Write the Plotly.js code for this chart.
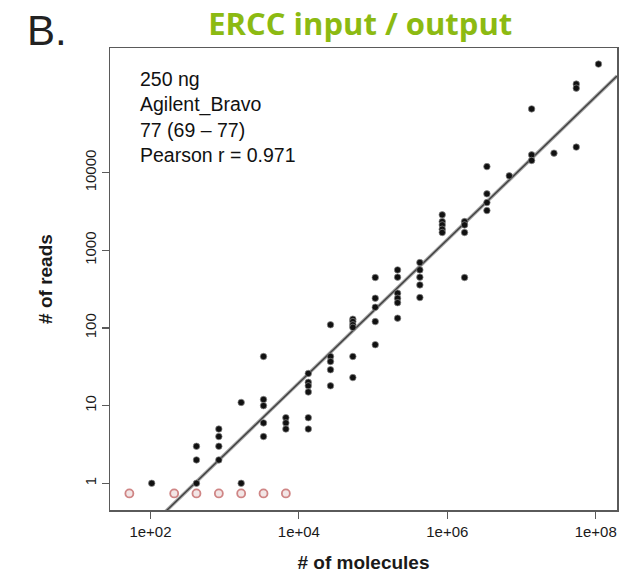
<!DOCTYPE html>
<html>
<head>
<meta charset="utf-8">
<script src="https://cdn.plot.ly/plotly-3.0.1.min.js"></script>
<style>
  html, body { margin: 0; padding: 0; background: #fff; }
  #chart { width: 623px; height: 575px; }
</style>
</head>
<body>
<div id="chart"></div>
<script>
// ---- data ----
const detectedMolecules = [
  104,
  417, 417, 417,
  835, 835, 835, 835,
  1670, 1670,
  3340, 3340, 3340, 3340, 3340,
  6680, 6680, 6680,
  13400, 13400, 13400, 13400, 13400, 13400,
  26700, 26700, 26700, 26700, 26700,
  53400, 53400, 53400, 53400, 53400, 53400,
  107000, 107000, 107000, 107000, 107000,
  214000, 214000, 214000, 214000, 214000, 214000,
  427000, 427000, 427000, 427000, 427000,
  855000, 855000, 855000, 855000, 855000,
  1710000, 1710000, 1710000, 1710000,
  3420000, 3420000, 3420000, 3420000,
  6840000,
  13700000, 13700000, 13700000,
  27400000,
  54700000, 54700000, 54700000,
  109000000
];
const detectedReads = [
  1,
  3, 2, 1,
  5, 4, 3, 2,
  11, 1,
  43, 12, 10, 6, 4,
  7, 6, 5,
  26, 20, 18, 15, 7, 5,
  110, 43, 37, 29, 18,
  130, 121, 110, 102, 43, 23,
  447, 242, 185, 121, 61,
  561, 452, 281, 242, 212, 134,
  697, 561, 452, 359, 247,
  2870, 2350, 2130, 1875, 1700,
  2350, 2130, 1700, 447,
  12000, 5350, 4130, 3260,
  9120,
  66500, 17000, 14400,
  17900,
  138700, 123000, 21400,
  251000
];
const zeroMolecules = [52, 209, 417, 835, 1670, 3340, 6680];
const zeroReadsShownAt = 0.74;

const fitSlope = 0.922;      // log10(reads) = slope*log10(molecules) + intercept
const fitIntercept = -2.395;

const xTickVals = [1e2, 1e4, 1e6, 1e8];
const xTickText = ['1e+02', '1e+04', '1e+06', '1e+08'];
const yTickVals = [1, 10, 100, 1000, 10000];
const yTickText = ['1', '10', '100', '1000', '10000'];

const infoLines = ['250 ng', 'Agilent_Bravo', '77 (69 \u2013 77)', 'Pearson r = 0.971'];

// ---- chart ----
const xRange = [1.455, 8.287];
const yRange = [-0.344, 5.607];
const fitX = [Math.pow(10, xRange[0]), Math.pow(10, xRange[1])];
const fitY = fitX.map(v => Math.pow(10, fitSlope * Math.log10(v) + fitIntercept));

const traces = [
  { x: fitX, y: fitY, mode: 'lines', line: { color: '#a8a8a8', width: 3.5 }, hoverinfo: 'skip' },
  { x: fitX, y: fitY, mode: 'lines', line: { color: '#404040', width: 1.4 }, hoverinfo: 'skip' },
  { x: zeroMolecules, y: zeroMolecules.map(() => zeroReadsShownAt), mode: 'markers',
    marker: { symbol: 'circle', size: 8, color: '#f2e6e6', line: { color: '#cf8585', width: 1.8 } } },
  { x: detectedMolecules, y: detectedReads, mode: 'markers',
    marker: { symbol: 'circle', size: 6.5, color: '#111', line: { color: 'rgba(140,140,140,0.7)', width: 1 } } }
];

const axisCommon = {
  type: 'log', showgrid: false, zeroline: false,
  showline: true, mirror: true, linecolor: '#5a5a5a', linewidth: 1.5,
  ticks: 'outside', ticklen: 7, tickwidth: 1.2, tickcolor: '#5a5a5a',
  tickfont: { family: 'Liberation Sans, Arial, sans-serif', size: 15, color: '#1a1a1a' },
  tickmode: 'array', fixedrange: true
};

const layout = {
  width: 623, height: 575,
  margin: { l: 109.5, r: 6, t: 48, b: 65 },
  paper_bgcolor: '#fff', plot_bgcolor: '#fff',
  showlegend: false,
  title: {
    text: '<b>ERCC input / output</b>',
    font: { family: 'Open Sans, sans-serif', size: 31, color: '#8cba12' },
    xref: 'paper', x: 0.4936, xanchor: 'center',
    yref: 'container', y: 0.958, yanchor: 'middle'
  },
  xaxis: Object.assign({}, axisCommon, {
    range: xRange, tickvals: xTickVals, ticktext: xTickText,
    title: { text: '<b># of molecules</b>', standoff: 17,
      font: { family: 'Liberation Sans, Arial, sans-serif', size: 19, color: '#1a1a1a' } }
  }),
  yaxis: Object.assign({}, axisCommon, {
    range: yRange, tickvals: yTickVals, ticktext: yTickText, tickangle: -90,
    title: { text: '<b># of reads</b>', standoff: 24,
      font: { family: 'Liberation Sans, Arial, sans-serif', size: 19, color: '#1a1a1a' } }
  }),
  annotations: [
    { text: 'B.', xref: 'paper', yref: 'paper', x: -0.168, y: 1.092,
      xanchor: 'left', yanchor: 'top', showarrow: false,
      font: { family: 'Liberation Sans, Arial, sans-serif', size: 42, color: '#222' } },
    { text: infoLines.join('<br>'), xref: 'paper', yref: 'paper', x: 0.056, y: 0.962,
      xanchor: 'left', yanchor: 'top', align: 'left', showarrow: false,
      font: { family: 'Liberation Sans, Arial, sans-serif', size: 19.5, color: '#111' } }
  ]
};

Plotly.newPlot('chart', traces, layout, { staticPlot: true, displayModeBar: false });
</script>
</body>
</html>
